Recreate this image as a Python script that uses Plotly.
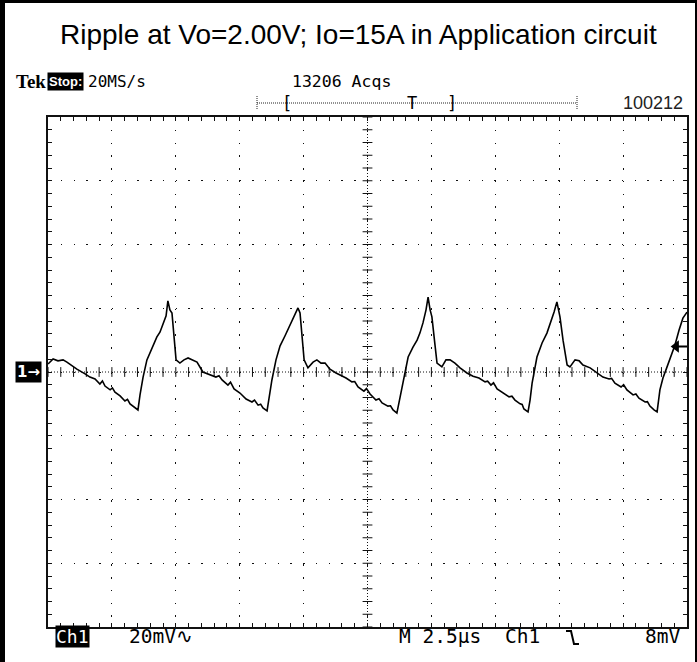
import numpy as np
import plotly.graph_objects as go

# ---------------- data ----------------
title_text = "Ripple at Vo=2.00V; Io=15A in Application circuit"
time_per_div_us = 2.5      # "M 2.5µs"
volt_per_div_mV = 20.0     # "20mV"
trigger_level_mV = 8.0     # "8mV"
n_hdiv = 10
n_vdiv = 8

t_us = [
    0.00, 0.20, 0.39, 0.59, 0.74, 0.94, 1.13, 1.45, 1.64, 1.84, 2.03, 2.13, 2.23, 2.43, 2.52, 2.62, 2.82, 3.01, 3.11, 3.21, 3.36, 3.52,
    3.60, 3.72, 3.87, 4.07, 4.26, 4.38, 4.50, 4.62, 4.69, 4.77, 4.85, 4.93, 5.01, 5.16, 5.32, 5.48, 5.67, 5.83, 6.06,
    6.34, 6.57, 6.69, 6.81, 7.04, 7.14, 7.28, 7.51, 7.75, 7.98, 8.08, 8.22, 8.32, 8.41, 8.57,
    8.65, 8.76, 8.92, 9.08, 9.27, 9.47, 9.62, 9.78, 9.86, 9.94, 10.02, 10.17, 10.37, 10.52, 10.68, 10.84, 11.03, 11.27, 11.42,
    11.66, 11.89, 12.00, 12.13, 12.36, 12.46, 12.60, 12.83, 12.95, 13.07, 13.30, 13.40, 13.50, 13.65,
    13.77, 13.93, 14.09, 14.28, 14.44, 14.55, 14.67, 14.79, 14.87, 14.95, 15.02, 15.14, 15.22, 15.41, 15.57, 15.73, 15.92, 16.12, 16.39,
    16.63, 16.86, 17.10, 17.20, 17.33, 17.43, 17.57, 17.80, 18.04, 18.15, 18.27, 18.47, 18.55, 18.62, 18.78,
    18.86, 18.94, 19.13, 19.33, 19.52, 19.68, 19.80, 19.91, 20.03, 20.15, 20.31, 20.42, 20.62, 20.78, 20.93, 21.21, 21.48,
    21.71, 21.95, 22.05, 22.18, 22.42, 22.52, 22.65, 22.89, 23.00, 23.12, 23.36, 23.45, 23.55, 23.71, 23.83,
    23.94, 24.06, 24.22, 24.37, 24.53, 24.69, 24.84, 25.00,
]
v_mV = [
    2.5, 4.1, 3.5, 3.8, 3.1, 1.9, 0.9, -0.6, -1.6, -2.2, -3.8, -2.8, -4.4, -5.6, -5.0, -6.3, -7.5, -9.1, -8.6, -10.0, -11.0, -11.9,
    -7.2, -1.6, 3.8, 7.8, 11.0, 12.5, 15.4, 17.6, 22.3, 19.5, 18.5, 11.6, 3.8, 2.8, 3.8, 4.4, 3.8, 3.1, 0.0,
    -0.9, -1.6, -1.2, -2.5, -4.1, -3.2, -5.3, -6.6, -8.5, -9.4, -8.8, -10.4, -10.1, -11.3, -12.2,
    -8.2, -2.5, 3.8, 8.2, 11.3, 14.7, 17.6, 20.1, 18.5, 11.6, 3.8, 1.3, 3.1, 3.8, 2.8, 2.8, 0.9, -0.3, -0.9,
    -1.9, -3.1, -3.0, -4.7, -6.0, -5.2, -6.9, -8.8, -8.4, -9.7, -10.7, -10.6, -11.9, -12.9,
    -7.8, -0.9, 4.7, 7.8, 10.0, 12.2, 15.4, 19.5, 23.5, 19.5, 17.3, 8.5, 2.8, 1.6, 3.8, 3.8, 2.8, 1.3, -0.3,
    -1.3, -1.9, -3.1, -2.9, -4.1, -3.4, -5.3, -6.6, -7.8, -7.6, -8.8, -10.0, -10.2, -11.6, -12.5,
    -8.8, -3.5, 4.7, 9.1, 12.2, 15.7, 18.8, 22.0, 17.3, 10.0, 2.2, 1.6, 3.8, 3.5, 2.2, 1.3, -0.3,
    -1.6, -2.2, -2.0, -3.5, -4.7, -4.0, -5.6, -7.2, -6.9, -8.2, -9.4, -9.3, -10.7, -11.9, -12.5,
    -5.6, -1.9, 1.6, 5.3, 8.5, 13.2, 16.9, 18.8,
]
assert len(t_us) == len(v_mV)

top_labels = {"tek": "Tek", "stop": "Stop:", "rate": "20MS/s", "acqs": "13206 Acqs", "id": "100212"}
bottom_labels = {"ch": "Ch1", "scale": "20mV\u223f", "time": "M 2.5\u00b5s", "trig_ch": "Ch1", "trig_lvl": "8mV"}

# ---------------- geometry ----------------
W, H = 697, 662
PL, PR, PT, PB = 48, 687, 117, 627     # plot-area edges in pixels
xmax = time_per_div_us * n_hdiv
ymax = volt_per_div_mV * n_vdiv / 2


def px(x):
    return x / W


def py(y):
    return 1 - y / H


fig = go.Figure()

# centre cross ticks (minor divisions)
minor_t = np.arange(0, xmax + 1e-9, time_per_div_us / 5)
minor_v = np.arange(-ymax, ymax + 1e-9, volt_per_div_mV / 5)
fig.add_trace(go.Scatter(x=minor_t, y=np.zeros_like(minor_t), mode="markers",
                         marker=dict(symbol="line-ns", size=7, line=dict(width=1, color="#111")),
                         hoverinfo="skip", showlegend=False))
fig.add_trace(go.Scatter(x=np.full_like(minor_v, xmax / 2), y=minor_v, mode="markers",
                         marker=dict(symbol="line-ew", size=7, line=dict(width=1, color="#111")),
                         hoverinfo="skip", showlegend=False))

# waveform
fig.add_trace(go.Scatter(x=t_us, y=v_mV, mode="lines",
                         line=dict(color="black", width=1.6), showlegend=False))

# trigger level marker at right edge
trig_t = xmax * 0.983
fig.add_trace(go.Scatter(x=[trig_t], y=[trigger_level_mV], mode="markers",
                         marker=dict(symbol="triangle-left", size=11, color="black"),
                         showlegend=False, cliponaxis=False))

shapes = []
# centre lines (denser dots)
shapes.append(dict(type="line", xref="x", yref="y", x0=0, x1=xmax, y0=0, y1=0,
                   line=dict(color="#111", width=1, dash="1px,2px")))
shapes.append(dict(type="line", xref="x", yref="y", x0=xmax / 2, x1=xmax / 2, y0=-ymax, y1=ymax,
                   line=dict(color="#111", width=1, dash="1px,2px")))
# trigger tail
shapes.append(dict(type="line", xref="x", yref="y", x0=trig_t, x1=xmax, y0=trigger_level_mV,
                   y1=trigger_level_mV, line=dict(color="black", width=2)))

# outer frame
shapes.append(dict(type="rect", xref="paper", yref="paper", x0=px(0), x1=px(5), y0=0, y1=1,
                   fillcolor="black", line=dict(width=0), layer="above"))
shapes.append(dict(type="rect", xref="paper", yref="paper", x0=0, x1=1, y0=py(3), y1=1,
                   fillcolor="black", line=dict(width=0), layer="above"))
shapes.append(dict(type="rect", xref="paper", yref="paper", x0=px(695), x1=1, y0=0, y1=1,
                   fillcolor="black", line=dict(width=0), layer="above"))

# record bar
shapes.append(dict(type="line", xref="paper", yref="paper", x0=px(257), x1=px(577), y0=py(103), y1=py(103),
                   line=dict(color="#222", width=1, dash="1px,1px")))
for xe in (257, 577):
    shapes.append(dict(type="line", xref="paper", yref="paper", x0=px(xe), x1=px(xe), y0=py(96), y1=py(110),
                       line=dict(color="#222", width=1, dash="1px,1px")))

# trigger slope icon
shapes.append(dict(type="path", xref="paper", yref="paper",
                   path=f"M {px(566)},{py(631)} L {px(571)},{py(631)} L {px(574)},{py(644)} L {px(579)},{py(644)}",
                   line=dict(color="black", width=2)))

mono = "DejaVu Sans Mono"
sans = "Liberation Sans, Arial"
ann = []
ann.append(dict(text=title_text, x=px(358), y=py(35), xref="paper", yref="paper", showarrow=False,
                xanchor="center", yanchor="middle", font=dict(family=sans, size=28, color="black")))
ann.append(dict(text="<b>" + top_labels["tek"] + "</b>", x=px(14), y=py(82), xref="paper", yref="paper",
                showarrow=False, xanchor="left", yanchor="middle",
                font=dict(family="Liberation Serif", size=19, color="black")))
ann.append(dict(text="<b>" + top_labels["stop"] + "</b>", x=px(65.5), y=py(82), xref="paper", yref="paper",
                showarrow=False, xanchor="center", yanchor="middle", bgcolor="black", borderpad=1,
                font=dict(family=sans, size=13, color="white")))
ann.append(dict(text=top_labels["rate"], x=px(86), y=py(82), xref="paper", yref="paper", showarrow=False,
                xanchor="left", yanchor="middle", font=dict(family=mono, size=16, color="black")))
ann.append(dict(text=top_labels["acqs"], x=px(290), y=py(82), xref="paper", yref="paper", showarrow=False,
                xanchor="left", yanchor="middle", font=dict(family=mono, size=16.5, color="black")))
for ch, xc in (("[", 287), ("T", 412), ("]", 452)):
    ann.append(dict(text=ch, x=px(xc), y=py(103), xref="paper", yref="paper", showarrow=False,
                    xanchor="center", yanchor="middle", font=dict(family=mono, size=17, color="black")))
ann.append(dict(text=top_labels["id"], x=px(685), y=py(103), xref="paper", yref="paper", showarrow=False,
                xanchor="right", yanchor="middle", font=dict(family=sans, size=18, color="#222")))

bfont = dict(family=mono, size=19.5, color="black")
ann.append(dict(text=bottom_labels["ch"], x=px(72.5), y=py(636.5), xref="paper", yref="paper",
                showarrow=False, xanchor="center", yanchor="middle", bgcolor="black", borderpad=0,
                font=dict(family=mono, size=18, color="white")))
ann.append(dict(text=bottom_labels["scale"], x=px(127), y=py(636.5), xref="paper", yref="paper",
                showarrow=False, xanchor="left", yanchor="middle", font=bfont))
ann.append(dict(text=bottom_labels["time"], x=px(397), y=py(636.5), xref="paper", yref="paper",
                showarrow=False, xanchor="left", yanchor="middle", font=bfont))
ann.append(dict(text=bottom_labels["trig_ch"], x=px(503), y=py(636.5), xref="paper", yref="paper",
                showarrow=False, xanchor="left", yanchor="middle", font=bfont))
ann.append(dict(text=bottom_labels["trig_lvl"], x=px(682), y=py(636.5), xref="paper", yref="paper",
                showarrow=False, xanchor="right", yanchor="middle", font=bfont))
# channel ground marker
ann.append(dict(text="<b>1\u2192</b>", x=px(29), y=0, xref="paper", yref="y", showarrow=False,
                xanchor="center", yanchor="middle", bgcolor="black", borderpad=1,
                font=dict(family="DejaVu Sans", size=15, color="white")))

axis_common = dict(showline=True, linecolor="#111", linewidth=2, mirror="ticks",
                   ticks="inside", ticklen=4, tickcolor="#111", tickwidth=1,
                   showticklabels=False, zeroline=False, showgrid=True, gridcolor="#111", gridwidth=1,
                   fixedrange=True)

fig.update_layout(
    width=W, height=H,
    margin=dict(l=0, r=0, t=0, b=0, pad=0),
    paper_bgcolor="white", plot_bgcolor="white",
    showlegend=False,
    xaxis=dict(range=[0, xmax], domain=[PL / W, PR / W], tick0=0, dtick=time_per_div_us,
               griddash="1.5px,11.28px",
               minor=dict(dtick=time_per_div_us / 5, ticks="inside", ticklen=4, tickcolor="#111",
                          showgrid=False), **axis_common),
    yaxis=dict(range=[-ymax, ymax], domain=[1 - PB / H, 1 - PT / H], tick0=0, dtick=volt_per_div_mV,
               griddash="1.5px,11.25px",
               minor=dict(dtick=volt_per_div_mV / 5, ticks="inside", ticklen=4, tickcolor="#111",
                          showgrid=False), **axis_common),
    shapes=shapes,
    annotations=ann,
)

fig.write_html("out.html", config={"displayModeBar": False},
               post_script="document.body.style.margin='0';document.body.style.overflow='hidden';")
